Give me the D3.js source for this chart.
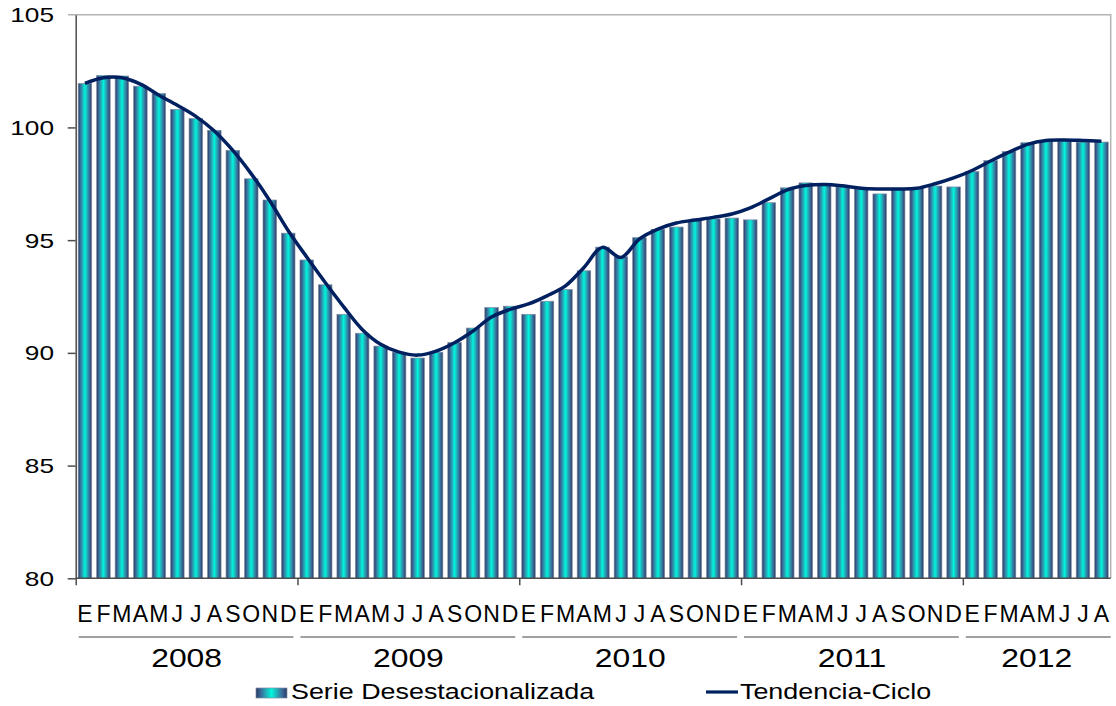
<!DOCTYPE html>
<html>
<head>
<meta charset="utf-8">
<script src="https://cdn.jsdelivr.net/npm/d3@7"></script>
<style>
	body { margin: 0; background: #fff; }
	svg { display: block; font-family: "Liberation Sans", Arial, sans-serif; }
</style>
</head>
<body>
<svg width="1116" height="706"></svg>
<script>
// month initials (Spanish) and years
var monthLabels = ["E","F","M","A","M","J","J","A","S","O","N","D"];
var years = ["2008","2009","2010","2011","2012"];
var yTicks = [80, 85, 90, 95, 100, 105];

// Serie Desestacionalizada, Jan 2008 - Aug 2012
var serie = [
	101.95, 102.30, 102.28, 101.83, 101.50, 100.80, 100.39, 99.87, 98.98, 97.72, 96.78, 95.31,
	94.12, 93.02, 91.71, 90.87, 90.30, 90.03, 89.77, 90.03, 90.46, 91.10, 92.01, 92.07,
	91.71, 92.29, 92.81, 93.64, 94.69, 94.26, 95.11, 95.48, 95.58, 95.89, 95.94, 95.98,
	95.90, 96.66, 97.32, 97.54, 97.42, 97.36, 97.27, 97.05, 97.27, 97.30, 97.40, 97.36,
	98.04, 98.53, 98.93, 99.32, 99.39, 99.39, 99.35, 99.35
];

// Tendencia-Ciclo
var tendencia = [
	101.95, 102.20, 102.20, 101.92, 101.43, 100.98, 100.49, 99.84, 98.98, 97.94, 96.75, 95.42,
	94.25, 93.12, 92.04, 91.04, 90.38, 90.03, 89.90, 90.08, 90.45, 90.97, 91.59, 91.93,
	92.17, 92.53, 92.97, 93.79, 94.68, 94.23, 95.05, 95.49, 95.76, 95.89, 96.01, 96.16,
	96.43, 96.83, 97.23, 97.42, 97.47, 97.41, 97.30, 97.27, 97.27, 97.30, 97.50, 97.76,
	98.09, 98.51, 98.90, 99.25, 99.42, 99.44, 99.42, 99.39
];

var svg = d3.select("svg");
var pLeft = 75.7, pRight = 1110.7, pTop = 14.7, pBottom = 578.3;
var sx = 1.25; // text in the original is stretched horizontally
var sxMonth = 1.0;

var n = serie.length;
var x = d3.scaleBand().domain(d3.range(n)).range([pLeft, pRight]).paddingInner(0.27).paddingOuter(0.135);
var xl = d3.scaleLinear().domain([0, n]).range([pLeft, pRight]);
var y = d3.scaleLinear().domain([80, 105]).range([pBottom, pTop]);

// bar gradient
var defs = svg.append("defs");
var grad = defs.append("linearGradient").attr("id", "barGrad").attr("x1", 0).attr("x2", 1).attr("y1", 0).attr("y2", 0);
[[0, "#26395f"], [0.15, "#3a6898"], [0.35, "#1fb8bd"], [0.5, "#00f5de"], [0.65, "#1fb8bd"], [0.85, "#3a6898"], [1, "#26395f"]]
	.forEach(function(s) { grad.append("stop").attr("offset", s[0]).attr("stop-color", s[1]); });

// plot border (top / right)
svg.append("path").attr("d", "M68," + pTop + "H" + pRight + "V" + pBottom)
	.attr("fill", "none").attr("stroke", "#b3b3b3").attr("stroke-width", 1.5);

// bars
svg.append("g").selectAll("rect").data(serie).enter().append("rect")
	.attr("x", function(d, i) { return x(i); })
	.attr("y", function(d) { return y(d); })
	.attr("width", x.bandwidth())
	.attr("height", function(d) { return pBottom - y(d); })
	.attr("fill", "url(#barGrad)")
	.attr("stroke", "#7d8ca3").attr("stroke-width", 0.7);

// trend line
var line = d3.line()
	.x(function(d, i) { return x(i) + x.bandwidth() / 2; })
	.y(function(d) { return y(d); })
	.curve(d3.curveCatmullRom);
svg.append("path").datum(tendencia).attr("d", line)
	.attr("fill", "none").attr("stroke", "#002060").attr("stroke-width", 3.5).attr("stroke-linejoin", "round");

// y axis
var yAxis = svg.append("g").attr("transform", "translate(" + pLeft + ",0)")
	.call(d3.axisLeft(y).tickValues(yTicks.slice(0, -1)).tickSize(8).tickSizeOuter(0).tickFormat(""));
yAxis.selectAll("path, line").attr("stroke", "#4d4d4d").attr("stroke-width", 1.5);
svg.append("g").selectAll("text").data(yTicks).enter().append("text")
	.attr("transform", function(d) { return "translate(54," + (y(d) + 7.5) + ") scale(" + sx + ",1)"; })
	.attr("text-anchor", "end").attr("font-size", 21).attr("fill", "#000")
	.text(function(d) { return d; });

// x axis with ticks at year boundaries
var xAxis = svg.append("g").attr("transform", "translate(0," + pBottom + ")")
	.call(d3.axisBottom(xl).tickValues([0, 12, 24, 36, 48]).tickSize(7).tickSizeOuter(0).tickFormat(""));
xAxis.select(".domain").attr("d", "M" + pLeft + ",0H" + pRight);
xAxis.selectAll("path, line").attr("stroke", "#4d4d4d").attr("stroke-width", 1.5);

// month initials
svg.append("g").selectAll("text").data(serie).enter().append("text")
	.attr("transform", function(d, i) { return "translate(" + (x(i) + x.bandwidth() / 2) + ",622) scale(" + sxMonth + ",1)"; })
	.attr("text-anchor", "middle").attr("font-size", 23).attr("fill", "#000")
	.text(function(d, i) { return monthLabels[i % 12]; });

// year groups
var yg = svg.append("g").selectAll("g").data(years).enter().append("g");
yg.append("line")
	.attr("x1", function(d, i) { return xl(i * 12) + 3; })
	.attr("x2", function(d, i) { return Math.min(xl((i + 1) * 12), pRight) - (i == years.length - 1 ? 0 : 4); })
	.attr("y1", 637).attr("y2", 637)
	.attr("stroke", "#808080").attr("stroke-width", 1.5);
yg.append("text")
	.attr("transform", function(d, i) {
		var a = xl(i * 12), b = Math.min(xl((i + 1) * 12), pRight);
		return "translate(" + ((a + b) / 2) + ",667) scale(" + sx + ",1)";
	})
	.attr("text-anchor", "middle").attr("font-size", 25.5).attr("fill", "#000")
	.text(function(d) { return d; });

// legend
var leg = svg.append("g");
leg.append("rect").attr("x", 256).attr("y", 688).attr("width", 31).attr("height", 10)
	.attr("fill", "url(#barGrad)").attr("stroke", "#7d8ca3").attr("stroke-width", 0.7);
leg.append("text").attr("transform", "translate(291,699) scale(" + sx + ",1)")
	.attr("font-size", 21.5).attr("fill", "#000").text("Serie Desestacionalizada");
leg.append("line").attr("x1", 706).attr("x2", 738).attr("y1", 692).attr("y2", 692)
	.attr("stroke", "#002060").attr("stroke-width", 3.2);
leg.append("text").attr("transform", "translate(740,699) scale(" + sx + ",1)")
	.attr("font-size", 21.5).attr("fill", "#000").text("Tendencia-Ciclo");
</script>
</body>
</html>
